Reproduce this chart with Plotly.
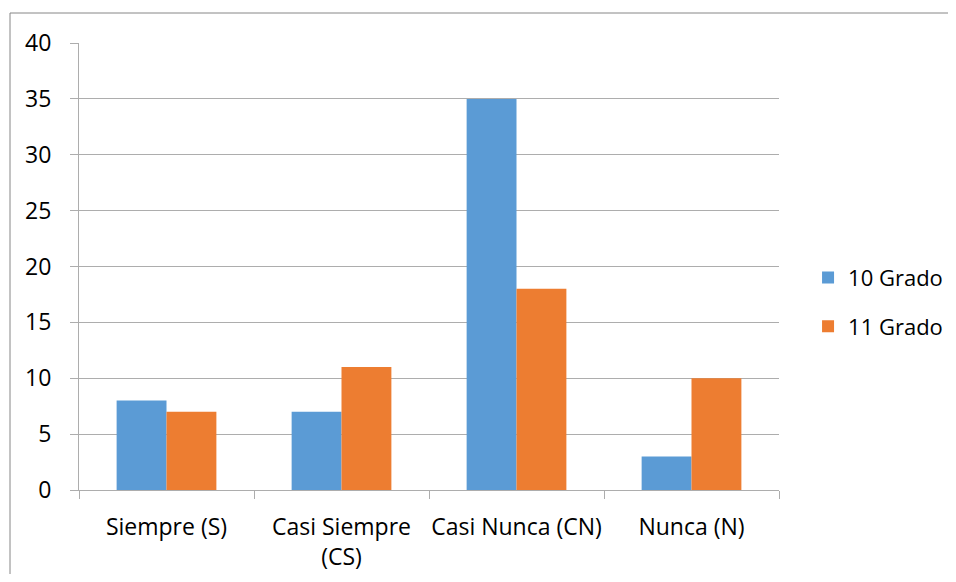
import plotly.graph_objects as go

categories = ["Siempre (S)", "Casi Siempre<br>(CS)", "Casi Nunca (CN)", "Nunca (N)"]
grado_10 = [8, 7, 35, 3]
grado_11 = [7, 11, 18, 10]
series_names = ["10 Grado", "11 Grado"]
y_ticks = [0, 5, 10, 15, 20, 25, 30, 35, 40]

BLUE = "#5B9BD5"
ORANGE = "#ED7D31"
GRID = "#ADADAD"
FONT = "Open Sans"

# page body has an 8px margin, so the figure is shrunk by 16px
fig = go.Figure()
for name, vals, color in zip(series_names, [grado_10, grado_11], [BLUE, ORANGE]):
    fig.add_trace(
        go.Bar(
            x=categories,
            y=vals,
            name=name,
            legendgroup=name,
            marker=dict(color=color, line=dict(width=0)),
        )
    )

fig.update_layout(
    width=940,
    height=566,
    margin=dict(l=71, r=169, t=35, b=84, autoexpand=False),
    paper_bgcolor="white",
    plot_bgcolor="white",
    barmode="group",
    bargap=0.43,
    bargroupgap=0,
    font=dict(family=FONT, size=23, color="#000000"),
    legend=dict(
        x=1.0415,
        y=0.42,
        xanchor="left",
        yanchor="middle",
        font=dict(size=22),
        traceorder="grouped",
        tracegroupgap=17,
        itemwidth=30,
    ),
    xaxis=dict(
        showline=True,
        linecolor=GRID,
        linewidth=1,
        ticks="outside",
        tickson="boundaries",
        ticklen=8,
        tickcolor=GRID,
        showgrid=False,
        tickangle=0,
        automargin=False,
        ticklabelstandoff=16,
    ),
    yaxis=dict(
        range=[0, 40],
        tickvals=y_ticks,
        showline=True,
        linecolor=GRID,
        linewidth=1,
        ticks="outside",
        ticklen=8,
        tickcolor=GRID,
        showgrid=True,
        gridcolor=GRID,
        gridwidth=1,
        zeroline=False,
        automargin=False,
        ticklabelstandoff=14,
    ),
    shapes=[
        dict(
            type="rect",
            xref="paper",
            yref="paper",
            x0=(10 - 79) / 700,
            x1=1.5,
            y0=-0.5,
            y1=(490 - 13) / 447,
            line=dict(color="#868686", width=1),
            layer="below",
        )
    ],
)

fig.write_html("out.html")
